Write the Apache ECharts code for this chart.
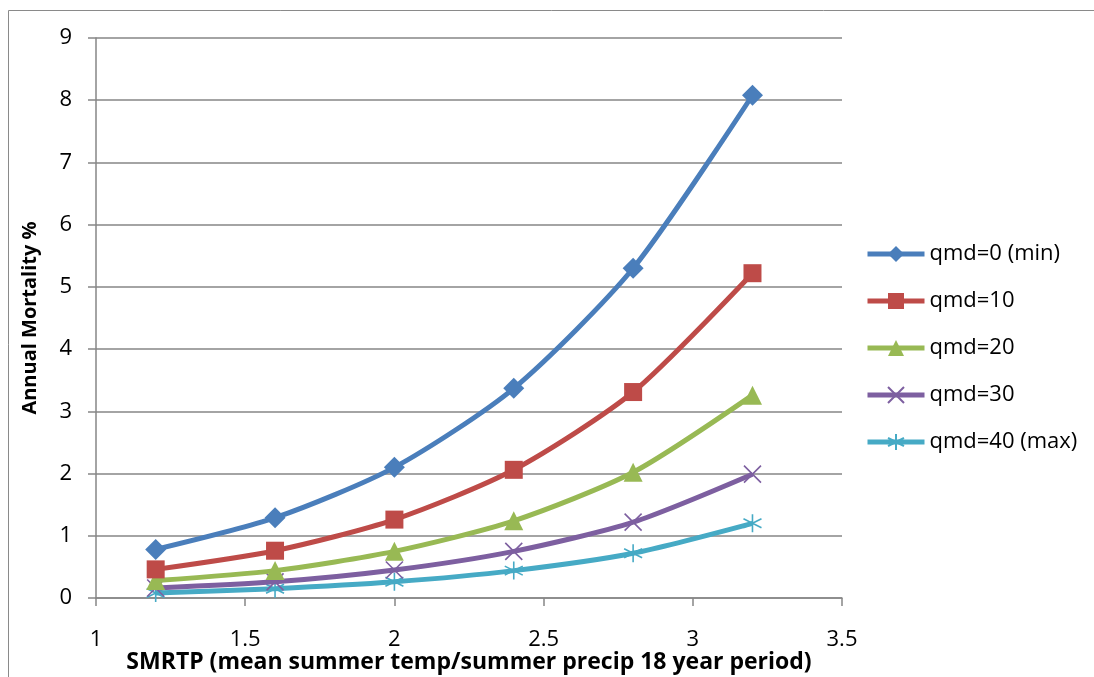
<!DOCTYPE html>
<html><head><meta charset="utf-8">
<script src="https://cdn.jsdelivr.net/npm/echarts@6/dist/echarts.min.js"></script>
<style>html,body{margin:0;padding:0;background:#fff}#c{width:1094px;height:677px}</style>
</head><body><div id="c"></div>
<script>
const xValues = [1.2, 1.6, 2.0, 2.4, 2.8, 3.2];
const seriesNames = ['qmd=0 (min)', 'qmd=10', 'qmd=20', 'qmd=30', 'qmd=40 (max)'];
const qmd0 = [0.78, 1.29, 2.1, 3.37, 5.3, 8.08];
const qmd10 = [0.46, 0.76, 1.26, 2.06, 3.31, 5.22];
const qmd20 = [0.28, 0.44, 0.75, 1.24, 2.02, 3.26];
const qmd30 = [0.16, 0.26, 0.45, 0.75, 1.22, 1.99];
const qmd40 = [0.08, 0.15, 0.26, 0.44, 0.72, 1.2];
const xTicks = [1, 1.5, 2, 2.5, 3, 3.5];
const yTicks = [0, 1, 2, 3, 4, 5, 6, 7, 8, 9];

const colors = ['#4a7ebb', '#be4b48', '#98b954', '#7d5fa0', '#46aac5'];
const allData = [qmd0, qmd10, qmd20, qmd30, qmd40];
const symbols = [
  'diamond', 'rect', 'triangle',
  'path://M0,0 L10,10 M10,0 L0,10',
  'path://M5,0 L5,10 M0.7,2.5 L9.3,7.5 M9.3,2.5 L0.7,7.5'
];
const symSizes = [21, 18, 19, 17, 18];
const font = '"Open Sans", "Liberation Sans", sans-serif';

const chart = echarts.init(document.getElementById('c'));
chart.setOption({
  animation: false,
  graphic: [
    {type: 'rect', shape: {x: 8.5, y: 10.5, width: 1200, height: 800}, style: {fill: 'none', stroke: '#8a8a8a', lineWidth: 1}}
  ],
  grid: {left: 96, right: 252, top: 38, bottom: 79, containLabel: false, outerBoundsMode: 'none'},
  legend: {
    orient: 'vertical', left: 860, top: 238, itemGap: 25, itemWidth: 57, itemHeight: 20,
    data: seriesNames,
    lineStyle: {width: 5},
    textStyle: {fontFamily: font, fontSize: 22, color: '#000'}
  },
  xAxis: {
    type: 'value', min: 1, max: 3.5, interval: 0.5,
    name: 'SMRTP (mean summer temp/summer precip 18 year period)',
    nameLocation: 'middle', nameGap: 53, nameMoveOverlap: false,
    nameTextStyle: {fontFamily: font, fontSize: 23, fontWeight: 'bold', color: '#000'},
    axisLine: {lineStyle: {color: '#868686', width: 1.5}},
    axisTick: {show: true, length: 8, inside: false, lineStyle: {color: '#868686', width: 1.5}},
    axisLabel: {fontFamily: font, fontSize: 22, color: '#000', margin: 31},
    splitLine: {show: false}
  },
  yAxis: {
    type: 'value', min: 0, max: 9, interval: 1,
    name: 'Annual Mortality %', nameLocation: 'middle', nameGap: 56, nameRotate: 90, nameMoveOverlap: false,
    nameTextStyle: {fontFamily: font, fontSize: 20, fontWeight: 'bold', color: '#000'},
    axisLine: {show: true, lineStyle: {color: '#868686', width: 1.5}},
    axisTick: {show: true, length: 8, lineStyle: {color: '#868686', width: 1.5}},
    axisLabel: {fontFamily: font, fontSize: 22, color: '#000', margin: 24},
    splitLine: {lineStyle: {color: '#868686', width: 1.5}}
  },
  series: seriesNames.map((n, i) => ({
    name: n, type: 'line', smooth: 0.25,
    data: xValues.map((x, j) => [x, allData[i][j]]),
    symbol: symbols[i], symbolSize: symSizes[i],
    lineStyle: {color: colors[i], width: 5},
    itemStyle: i >= 3 ? {color: colors[i], borderColor: colors[i], borderWidth: 1.6} : {color: colors[i]},
    color: colors[i],
    z: 10 - i
  }))
});
</script></body></html>
